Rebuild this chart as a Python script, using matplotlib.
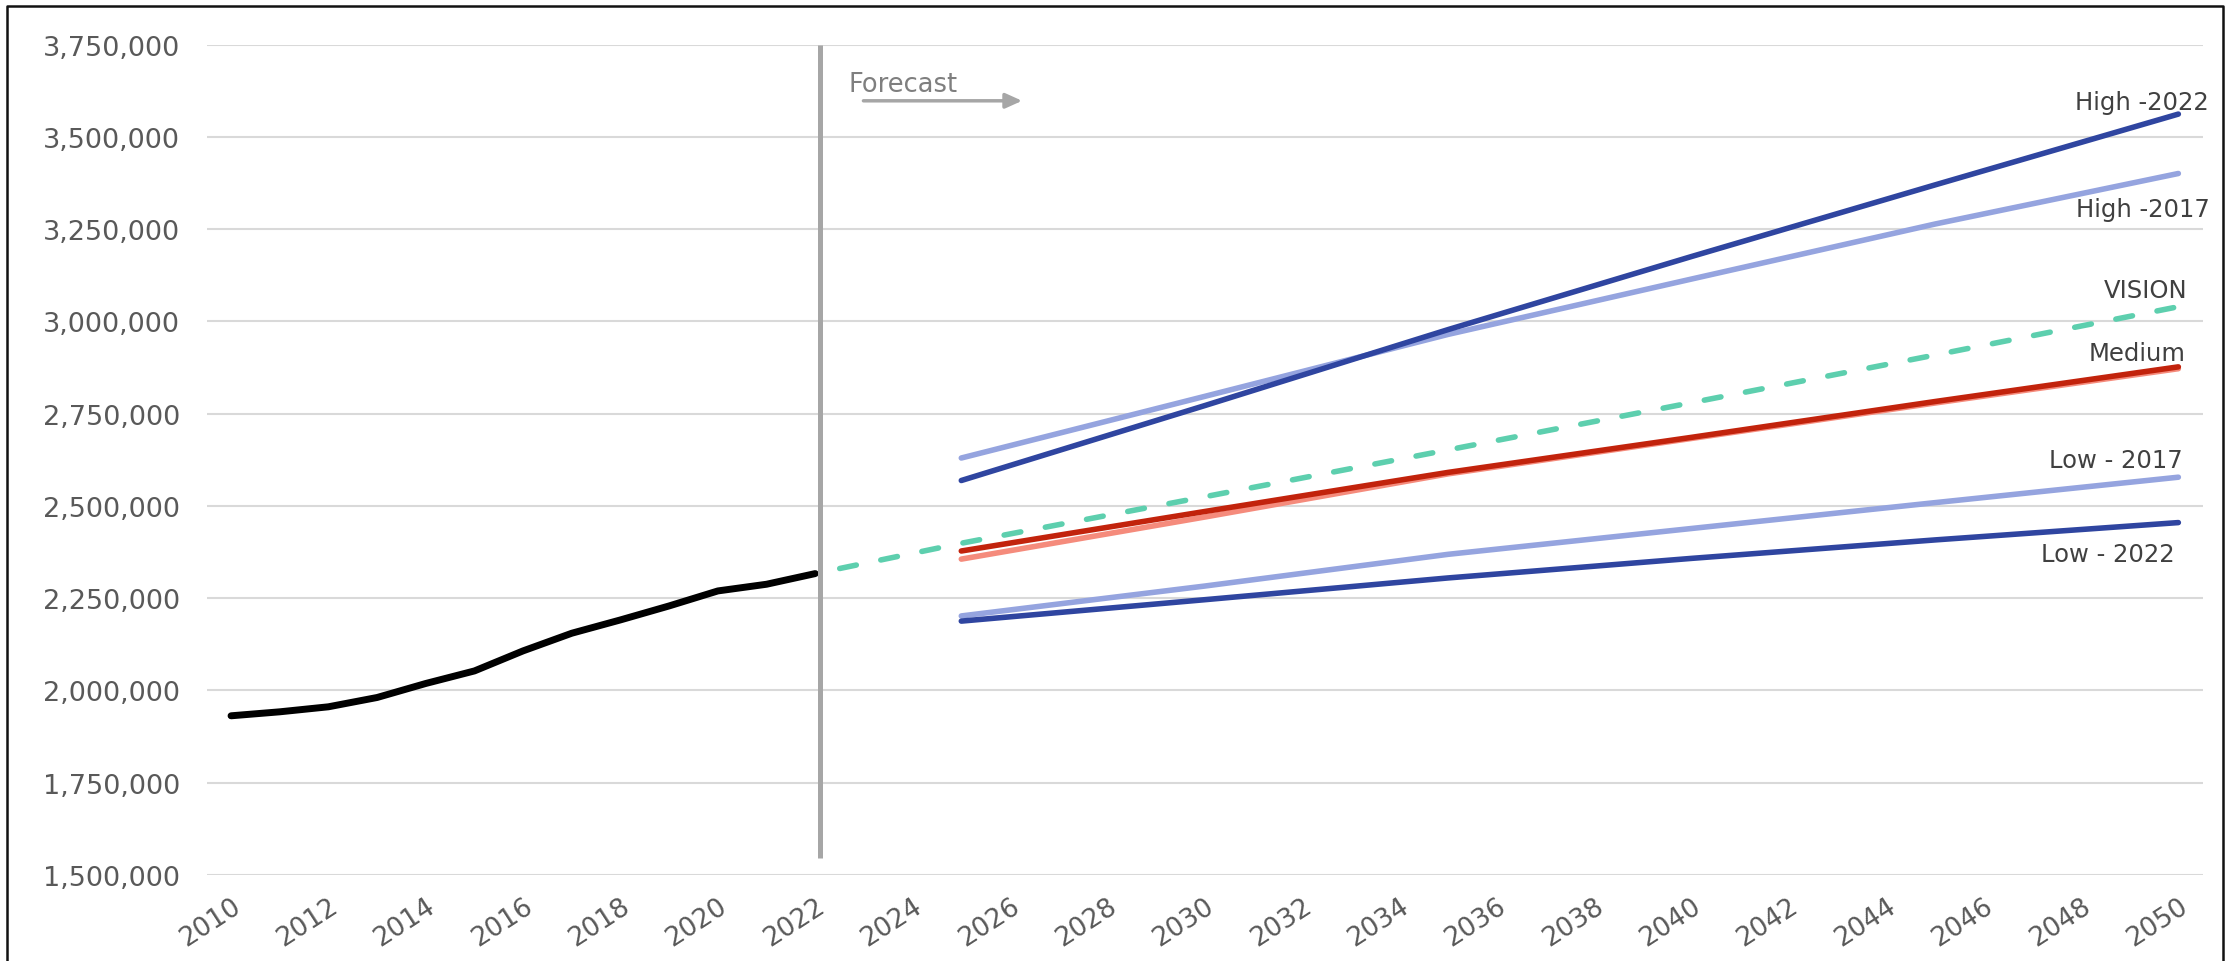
import matplotlib
matplotlib.use("Agg")
import matplotlib.pyplot as plt
from matplotlib.lines import Line2D
from matplotlib.ticker import FuncFormatter

# ---------------- data ----------------
hist_years = list(range(2010, 2023))
hist_pop = [1931400, 1942200, 1955800, 1981000, 2019000, 2053000, 2107400,
            2155200, 2191300, 2229200, 2269800, 2287900, 2316800]

proj_years = [2025, 2030, 2035, 2040, 2045, 2050]
high_2022 = [2569000, 2772000, 2978000, 3176000, 3370000, 3562000]
high_2017 = [2630000, 2797000, 2965000, 3115000, 3264000, 3401000]
medium_2017 = [2356000, 2470000, 2587000, 2683000, 2779000, 2872000]
medium = [2378000, 2485000, 2591000, 2686000, 2783000, 2877000]
low_2017 = [2202000, 2283000, 2369000, 2439000, 2509000, 2578000]
low_2022 = [2188000, 2246000, 2305000, 2358000, 2408000, 2455000]

vision_years = [2022, 2025, 2030, 2035, 2040, 2045, 2050]
vision = [2316800, 2399000, 2525000, 2652000, 2780000, 2909000, 3040000]

series_labels = ["High -2022", "High -2017", "VISION", "Medium", "Low - 2017", "Low - 2022"]
label_x = [2050.62, 2050.65, 2050.19, 2050.14, 2050.10, 2049.93]
label_y = [3575600, 3286600, 3065600, 2895700, 2606700, 2352000]

x_ticks = list(range(2010, 2051, 2))
y_ticks = list(range(1500000, 3750001, 250000))

# ---------------- colours ----------------
DARK_BLUE = "#2F45A0"
LIGHT_BLUE = "#95A4DF"
RED = "#C2230C"
SALMON = "#F58B7C"
GREEN = "#5DCFAE"
GREY = "#A6A6A6"
GRID = "#D9D9D9"
TICK = "#595959"
LABEL = "#404040"

plt.rcParams['font.family'] = ['DejaVu Sans']

fig = plt.figure(figsize=(22.33, 9.62), dpi=100)
ax = fig.add_axes([0.09257, 0.08940, 0.89386, 0.86309])

ax.set_xlim(2009.5, 2050.5)
ax.set_ylim(1500000, 3750000)

for s in ax.spines.values():
    s.set_visible(False)

ax.set_yticks(y_ticks)
ax.yaxis.set_major_formatter(FuncFormatter(lambda v, p: f"{v:,.0f}"))
ax.set_xticks(x_ticks)
ax.grid(axis='y', color=GRID, linewidth=1.5, zorder=0)
ax.grid(axis='x', visible=False)
ax.tick_params(axis='y', length=0, pad=19, labelsize=19.5, labelcolor=TICK)
ax.tick_params(axis='x', length=0, pad=13, labelsize=19, labelcolor=TICK)
for lab in ax.get_xticklabels():
    lab.set_rotation(33)
    lab.set_ha('right')
    lab.set_va('top')
    lab.set_rotation_mode('anchor')

lw = 4.0
# forecast lines
ax.plot(proj_years, high_2017, color=LIGHT_BLUE, lw=lw, solid_capstyle='round', zorder=3)
ax.plot(proj_years, high_2022, color=DARK_BLUE, lw=lw, solid_capstyle='round', zorder=4)
ax.plot(proj_years, low_2017, color=LIGHT_BLUE, lw=lw, solid_capstyle='round', zorder=3)
ax.plot(proj_years, low_2022, color=DARK_BLUE, lw=lw, solid_capstyle='round', zorder=4)
ax.plot(proj_years, medium_2017, color=SALMON, lw=lw, solid_capstyle='round', zorder=3)
ax.plot(proj_years, medium, color=RED, lw=lw, solid_capstyle='round', zorder=4)
ax.plot(vision_years, vision, color=GREEN, lw=lw, linestyle=(3.05, (3.05, 4.5)),
        dash_capstyle='round', zorder=5)

# historical
ax.plot(hist_years, hist_pop, color="black", lw=5.0, solid_capstyle='round',
        solid_joinstyle='round', zorder=6)

# forecast divider
ax.plot([2022.1, 2022.1], [1545000, 3750000], color=GREY, lw=3.6, zorder=7,
        solid_capstyle='butt')
ax.text(2022.68, 3625100, "Forecast", color="#7F7F7F", fontsize=18.5,
        ha='left', va='baseline')
ax.annotate("", xy=(2026.25, 3598000), xytext=(2022.99, 3598000),
            arrowprops=dict(arrowstyle="-|>,head_length=1.0,head_width=0.45",
                            color=GREY, lw=2.5, shrinkA=0, shrinkB=0))

for t, x, y in zip(series_labels, label_x, label_y):
    ax.text(x, y, t, color=LABEL, fontsize=17.5, ha='right', va='baseline', zorder=8)

# outer frame (left, top, right)
W, H = 2233, 962
fx0, fx1 = 7 / W, 2223 / W
fy1 = 1 - 7 / H
fig.add_artist(Line2D([fx0, fx0, fx1, fx1], [-0.01, fy1, fy1, -0.01],
                      transform=fig.transFigure, color="#111111", lw=1.8))

fig.savefig("out.png", dpi=100)
